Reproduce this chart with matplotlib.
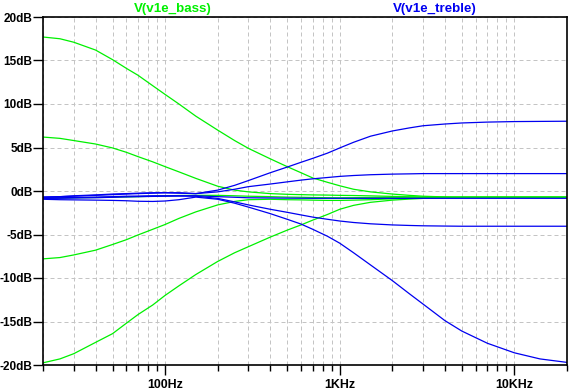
import matplotlib
matplotlib.use("Agg")
import matplotlib.pyplot as plt
from matplotlib.ticker import FixedLocator, NullFormatter, FixedFormatter

# Frecuencias de muestreo (Hz)
freqs = [20, 25, 30, 40, 50, 60, 70, 85, 100, 120, 150, 200, 250, 300, 400, 500, 600, 700,
         850, 1000, 1200, 1500, 2000, 2500, 3000, 4000, 5000, 7000, 10000, 14000, 20000]

# V(v1e_bass) - barrido del control de graves (dB)
bass_1 = [17.7, 17.5, 17.1, 16.2, 15.1, 14.1, 13.3, 12.1, 11.1, 10.0, 8.6, 7.0, 5.8, 4.9, 3.7, 2.8,
          2.1, 1.5, 1.0, 0.6, 0.2, -0.1, -0.35, -0.5, -0.6, -0.68, -0.72, -0.72, -0.72, -0.72, -0.72]
bass_2 = [6.2, 6.05, 5.8, 5.4, 4.95, 4.45, 3.95, 3.35, 2.8, 2.2, 1.45, 0.55, 0.1, -0.1, -0.3, -0.38,
          -0.42, -0.45, -0.47, -0.5, -0.52, -0.56, -0.62, -0.66, -0.7, -0.72, -0.72, -0.72, -0.72, -0.72, -0.72]
bass_3 = [-0.8, -0.8, -0.78, -0.75, -0.72, -0.68, -0.65, -0.6, -0.55, -0.52, -0.5, -0.5, -0.55, -0.6,
          -0.65, -0.7, -0.72, -0.75, -0.77, -0.78, -0.77, -0.75, -0.73, -0.72, -0.72, -0.72, -0.72,
          -0.72, -0.72, -0.72, -0.72]
bass_4 = [-7.8, -7.65, -7.35, -6.8, -6.15, -5.6, -5.05, -4.4, -3.85, -3.15, -2.4, -1.6, -1.2, -1.0,
          -0.95, -1.0, -1.02, -1.05, -1.08, -1.08, -1.05, -1.0, -0.9, -0.82, -0.77, -0.73, -0.72, -0.72,
          -0.72, -0.72, -0.72]
bass_5 = [-19.75, -19.3, -18.7, -17.4, -16.4, -15.2, -14.2, -13.1, -12.0, -10.9, -9.6, -8.1, -7.1,
          -6.4, -5.3, -4.5, -3.9, -3.35, -2.7, -2.1, -1.65, -1.3, -1.05, -0.93, -0.85, -0.78, -0.74,
          -0.72, -0.72, -0.72, -0.72]

# V(v1e_treble) - barrido del control de agudos (dB)
treble_1 = [-0.7, -0.65, -0.6, -0.5, -0.42, -0.35, -0.3, -0.25, -0.2, -0.2, -0.3, 0.1, 0.65, 1.2,
            2.1, 2.75, 3.3, 3.75, 4.35, 4.95, 5.6, 6.3, 6.9, 7.25, 7.5, 7.7, 7.82, 7.92, 7.98, 8.0, 8.02]
treble_2 = [-0.7, -0.65, -0.55, -0.45, -0.35, -0.3, -0.25, -0.2, -0.2, -0.25, -0.3, -0.1, 0.2, 0.5,
            0.8, 1.05, 1.25, 1.4, 1.55, 1.68, 1.78, 1.87, 1.94, 1.97, 2.0, 2.0, 2.0, 2.0, 2.0, 2.0, 2.0]
treble_3 = [-0.8, -0.78, -0.75, -0.7, -0.65, -0.6, -0.58, -0.55, -0.55, -0.55, -0.55, -0.65, -0.72,
            -0.78, -0.8, -0.82, -0.83, -0.84, -0.84, -0.84, -0.84, -0.84, -0.84, -0.84, -0.84, -0.84,
            -0.84, -0.84, -0.84, -0.84, -0.84]
treble_4 = [-0.85, -0.83, -0.8, -0.77, -0.72, -0.68, -0.65, -0.62, -0.6, -0.58, -0.6, -0.85, -1.25,
            -1.6, -2.1, -2.45, -2.75, -3.0, -3.25, -3.45, -3.62, -3.77, -3.9, -3.96, -4.0, -4.03, -4.05,
            -4.05, -4.05, -4.05, -4.05]
treble_5 = [-0.95, -1.0, -1.02, -1.05, -1.08, -1.12, -1.18, -1.2, -1.15, -1.0, -0.7, -0.95, -1.4,
            -1.85, -2.6, -3.25, -3.8, -4.4, -5.2, -6.0, -7.1, -8.5, -10.3, -11.8, -13.0, -14.9, -16.1,
            -17.5, -18.6, -19.3, -19.7]

x_major = [100, 1000, 10000]
x_labels = ["100Hz", "1KHz", "10KHz"]
y_ticks = [-20, -15, -10, -5, 0, 5, 10, 15, 20]

plt.rcParams["font.family"] = ["Liberation Sans", "DejaVu Sans"]

fig = plt.figure(figsize=(5.7, 3.9), dpi=100)
ax = fig.add_axes([43 / 570, 1 - 365 / 390, 524 / 570, 348 / 390])

verde = "#00f000"
azul = "#0000f0"

for serie in [bass_1, bass_2, bass_3, bass_4, bass_5]:
    ax.plot(freqs, serie, color=verde, lw=0.9)
for serie in [treble_1, treble_2, treble_3, treble_4, treble_5]:
    ax.plot(freqs, serie, color=azul, lw=0.9)

ax.set_xscale("log")
ax.set_xlim(20, 20000)
ax.set_ylim(-20, 20)

# Ejes y rejilla estilo LTspice
minors = [m * 10 ** d for d in range(1, 5) for m in range(2, 10) if 20 <= m * 10 ** d <= 20000]
ax.xaxis.set_major_locator(FixedLocator(x_major))
ax.xaxis.set_major_formatter(FixedFormatter(x_labels))
ax.xaxis.set_minor_locator(FixedLocator(minors))
ax.xaxis.set_minor_formatter(NullFormatter())
ax.set_yticks(y_ticks)
ax.set_yticklabels([f"{v}dB" for v in y_ticks])

ax.tick_params(axis="x", which="major", length=7, width=1, direction="out", pad=3,
               labelsize=8.9)
ax.tick_params(axis="x", which="minor", length=4.5, width=1, direction="out")
ax.tick_params(axis="y", length=7, width=1, direction="out", pad=0.5, labelsize=8.5)
for lab in ax.get_xticklabels() + ax.get_yticklabels():
    lab.set_fontweight("bold")

ax.grid(True, which="both", axis="x", color="#c4c4c4", lw=0.72, linestyle=(0, (4, 3)))
ax.grid(True, which="major", axis="y", color="#c4c4c4", lw=0.72, linestyle=(0, (4, 3)))
ax.set_axisbelow(True)
for s in ax.spines.values():
    s.set_linewidth(1.2)

fig.text(173 / 570, 1 - 9 / 390, "V(v1e_bass)", color=verde, ha="center", va="center",
         fontsize=9.6, fontweight="bold")
fig.text(435 / 570, 1 - 9 / 390, "V(v1e_treble)", color=azul, ha="center", va="center",
         fontsize=9.6, fontweight="bold")

fig.savefig("out.png", dpi=100)
